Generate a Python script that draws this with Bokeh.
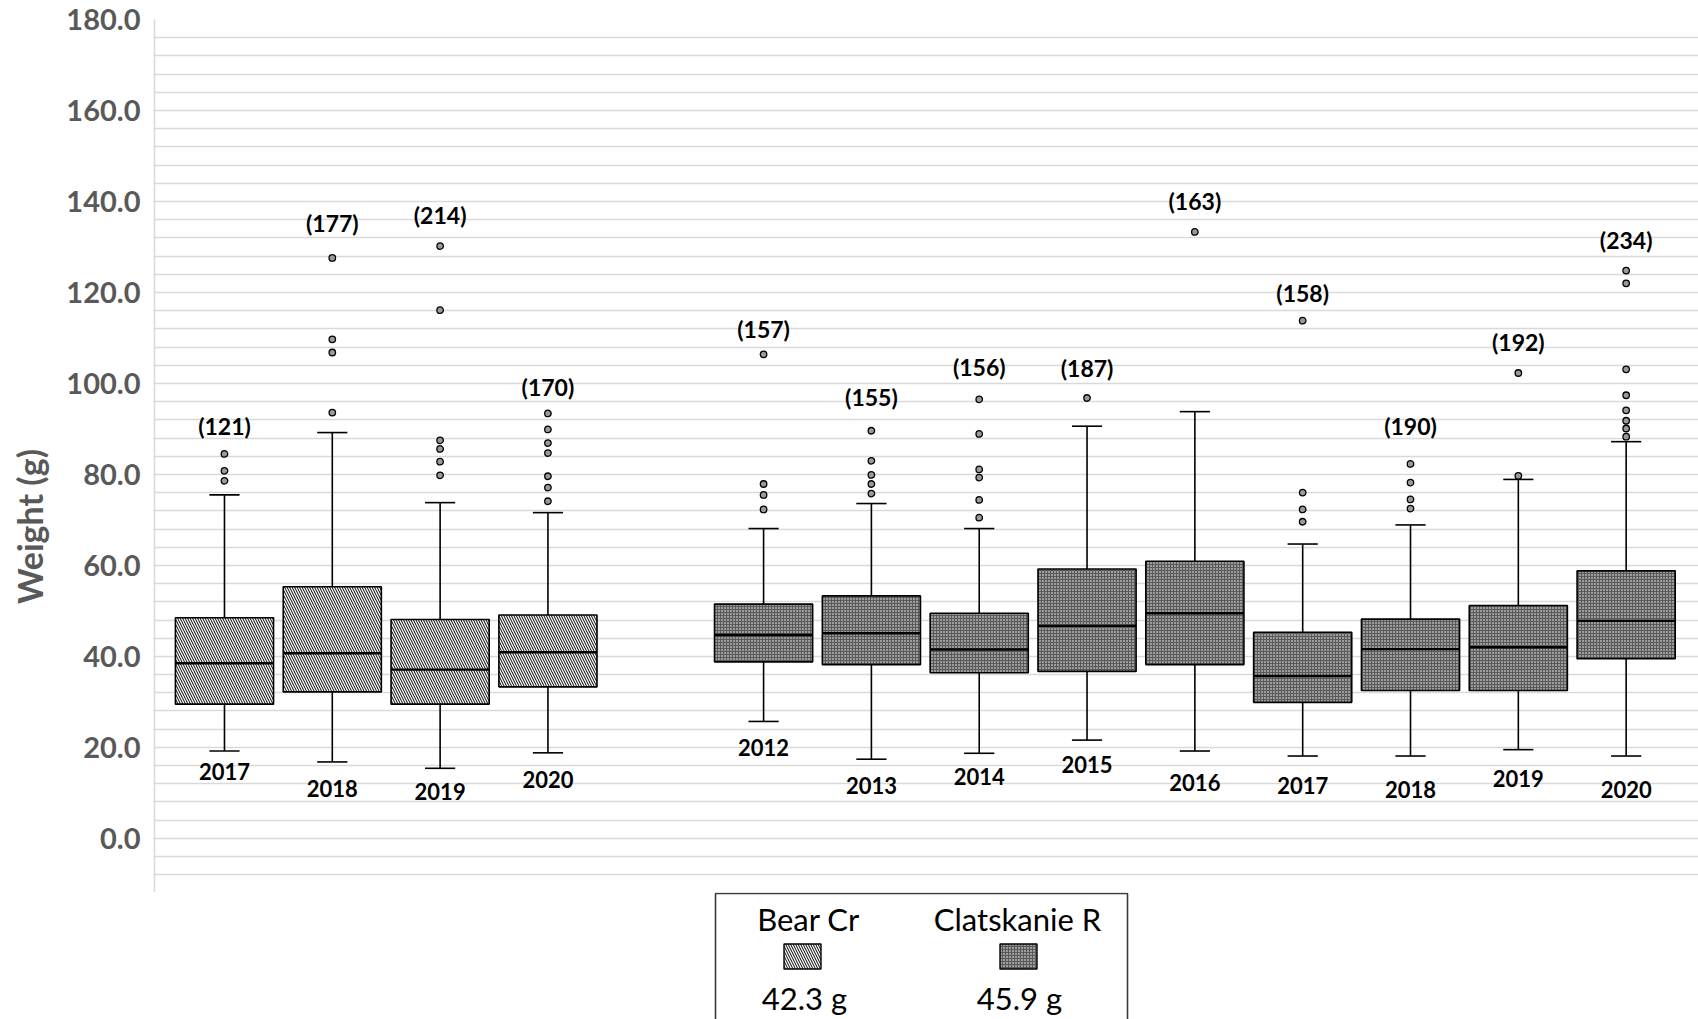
import math
import numpy as np
from bokeh.plotting import figure
from bokeh.models import ColumnDataSource, Range1d, FixedTicker, NumeralTickFormatter
from bokeh.layouts import column, row
from bokeh.core.properties import value
from bokeh.embed import file_html
from bokeh.resources import INLINE

# ---------------- data ----------------
sites = ["Bear Cr", "Clatskanie R"]
site_means = [42.3, 45.9]

bear_years = ["2017", "2018", "2019", "2020"]
bear_n = [121, 177, 214, 170]
bear_low = [19.2, 16.8, 15.4, 18.8]
bear_q1 = [29.5, 32.2, 29.5, 33.3]
bear_med = [38.5, 40.7, 37.1, 40.9]
bear_q3 = [48.5, 55.3, 48.1, 49.1]
bear_high = [75.5, 89.2, 73.8, 71.6]
bear_outliers = [
    [84.5, 80.8, 78.6],
    [127.6, 109.7, 106.8, 93.6],
    [130.2, 116.1, 87.5, 85.6, 82.8, 79.8],
    [93.4, 89.9, 86.9, 84.7, 79.6, 77.1, 74.1],
]
bear_n_label_y = [90.6, 135.3, 137.0, 99.3]
bear_year_label_y = [14.7, 11.0, 10.2, 13.0]

clat_years = ["2012", "2013", "2014", "2015", "2016", "2017", "2018", "2019", "2020"]
clat_n = [157, 155, 156, 187, 163, 158, 190, 192, 234]
clat_low = [25.7, 17.4, 18.7, 21.6, 19.2, 18.1, 18.1, 19.5, 18.1]
clat_q1 = [38.8, 38.2, 36.4, 36.7, 38.2, 29.9, 32.5, 32.5, 39.5]
clat_med = [44.7, 45.1, 41.5, 46.7, 49.5, 35.7, 41.6, 42.0, 47.8]
clat_q3 = [51.5, 53.3, 49.5, 59.2, 60.9, 45.3, 48.2, 51.2, 58.8]
clat_high = [68.1, 73.6, 68.1, 90.6, 93.8, 64.7, 68.9, 78.9, 87.2]
clat_outliers = [
    [106.4, 77.9, 75.5, 72.3],
    [89.6, 83.0, 79.9, 77.9, 75.8],
    [96.5, 88.9, 81.1, 79.3, 74.4, 70.5],
    [96.8],
    [133.3],
    [113.8, 76.0, 72.3, 69.6],
    [82.3, 78.2, 74.5, 72.5],
    [102.3, 79.7],
    [124.8, 122.0, 103.1, 97.4, 94.1, 91.8, 90.1, 88.3],
]
clat_n_label_y = [111.9, 97.1, 103.6, 103.3, 140.1, 119.9, 90.6, 109.1, 131.5]
clat_year_label_y = [20.0, 11.7, 13.7, 16.3, 12.2, 11.7, 10.8, 13.2, 10.8]

y_title = "Weight (g)"

# ---------------- styles ----------------
FONT = "Lato"
BOX_W = 0.91
CAP_W = 0.28
AX_GRAY = "#595959"
GRID = "#d9d9d9"
TOTAL_W = 1698
LAB_W = 54
MAIN_H = 892
LEG_H = 127

bear_style = dict(fill_color="white", hatch_pattern="left_diagonal_line",
                  hatch_color="black", hatch_weight=1, hatch_scale=5)
clat_style = dict(fill_color="#5a5a5a", hatch_pattern="dot",
                  hatch_color="white", hatch_weight=1, hatch_scale=3)

# ---- narrow strip holding the rotated y title ----
lab = figure(width=LAB_W, height=MAIN_H, x_range=Range1d(0, LAB_W), y_range=Range1d(MAIN_H, 0),
             x_axis_type=None, y_axis_type=None, output_backend="svg",
             toolbar_location=None, min_border=0)
lab.outline_line_color = None
lab.background_fill_color = "white"
lab.border_fill_color = "white"
lab.text(x=[29], y=[518], text=[y_title], angle=math.pi / 2, text_align="center",
         text_baseline="middle", text_font=value(FONT), text_font_style="bold",
         text_font_size="34px", text_color=AX_GRAY)

# ---- main plot ----
p = figure(width=TOTAL_W - LAB_W, height=MAIN_H,
           x_range=Range1d(-0.649, 13.671), y_range=Range1d(-11.9, 180),
           x_axis_type=None, output_backend="svg", toolbar_location=None,
           min_border_left=100, min_border_right=0, min_border_top=19,
           min_border_bottom=0)
p.outline_line_color = None
p.background_fill_color = "white"
p.border_fill_color = "white"
p.xgrid.visible = False
p.ygrid.ticker = FixedTicker(ticks=list(range(-8, 181, 4)))
p.ygrid.grid_line_color = GRID
p.ygrid.grid_line_width = 1.6

ax = p.yaxis[0]
ax.ticker = FixedTicker(ticks=list(range(0, 181, 20)))
ax.formatter = NumeralTickFormatter(format="0.0")
ax.major_tick_line_color = None
ax.minor_tick_line_color = None
ax.major_tick_out = 0
ax.axis_line_color = GRID
ax.axis_line_width = 1.6
ax.major_label_text_font = FONT
ax.major_label_text_font_size = "29px"
ax.major_label_text_font_style = "bold"
ax.major_label_text_color = AX_GRAY
ax.major_label_standoff = 14


def draw_group(xpos, years, n, low, q1, med, q3, high, outliers, n_y, yr_y, style):
    x = np.asarray(xpos, dtype=float)
    src = ColumnDataSource(dict(
        x=x, left=x - BOX_W / 2, right=x + BOX_W / 2,
        cl=x - CAP_W / 2, cr=x + CAP_W / 2,
        low=low, q1=q1, med=med, q3=q3, high=high,
        ntext=["(%d)" % v for v in n], n_y=n_y, years=years, yr_y=yr_y))
    # whiskers
    p.segment(x0="x", x1="x", y0="q3", y1="high", source=src, line_color="black", line_width=1.6)
    p.segment(x0="x", x1="x", y0="q1", y1="low", source=src, line_color="black", line_width=1.6)
    p.segment(x0="cl", x1="cr", y0="high", y1="high", source=src, line_color="black", line_width=1.6)
    p.segment(x0="cl", x1="cr", y0="low", y1="low", source=src, line_color="black", line_width=1.6)
    # boxes
    p.quad(left="left", right="right", bottom="q1", top="q3", source=src,
           line_color="black", line_width=1.6, **style)
    p.segment(x0="left", x1="right", y0="med", y1="med", source=src,
              line_color="black", line_width=2.4)
    # outliers
    ox, oy = [], []
    for xi, outs in zip(x, outliers):
        ox += [xi] * len(outs)
        oy += list(outs)
    p.scatter(ox, oy, marker="circle", size=6.5, fill_color="#9a9a9a",
              line_color="black", line_width=1.3)
    # labels
    p.text(x="x", y="n_y", text="ntext", source=src, text_align="center",
           text_baseline="middle", text_font=value(FONT), text_font_style="bold",
           text_font_size="23px", text_color="black")
    p.text(x="x", y="yr_y", text="years", source=src, text_align="center",
           text_baseline="middle", text_font=value(FONT), text_font_style="bold",
           text_font_size="22px", text_color="black")


bear_x = list(range(len(bear_years)))
clat_x = [len(bear_years) + 1 + i for i in range(len(clat_years))]

draw_group(bear_x, bear_years, bear_n, bear_low, bear_q1, bear_med, bear_q3,
           bear_high, bear_outliers, bear_n_label_y, bear_year_label_y, bear_style)
draw_group(clat_x, clat_years, clat_n, clat_low, clat_q1, clat_med, clat_q3,
           clat_high, clat_outliers, clat_n_label_y, clat_year_label_y, clat_style)

# ---------------- legend (separate strip below the plot) ----------------
leg = figure(width=TOTAL_W, height=LEG_H, x_range=Range1d(0, TOTAL_W), y_range=Range1d(LEG_H, 0),
             x_axis_type=None, y_axis_type=None, output_backend="svg",
             toolbar_location=None, min_border=0)
leg.outline_line_color = None
leg.background_fill_color = "white"
leg.border_fill_color = "white"

leg.quad(left=[715], right=[1127], top=[1], bottom=[LEG_H + 20], fill_color=None,
         line_color="#3a3a3a", line_width=1.6)
leg.text(x=[808, 1017], y=[26, 26], text=sites, text_align="center", text_baseline="middle",
         text_font=value(FONT), text_font_size="31px", text_color="black")
leg.rect(x=[802], y=[64], width=[37], height=[25], line_color="black", line_width=1.4, **bear_style)
leg.rect(x=[1018], y=[64], width=[37], height=[25], line_color="black", line_width=1.4, **clat_style)
leg.text(x=[804, 1019], y=[105, 105], text=["%.1f g" % m for m in site_means],
         text_align="center", text_baseline="middle",
         text_font=value(FONT), text_font_size="31px", text_color="black")

layout = column(row(lab, p, spacing=0), leg, spacing=0)
open("out.html", "w").write(file_html(layout, INLINE))
